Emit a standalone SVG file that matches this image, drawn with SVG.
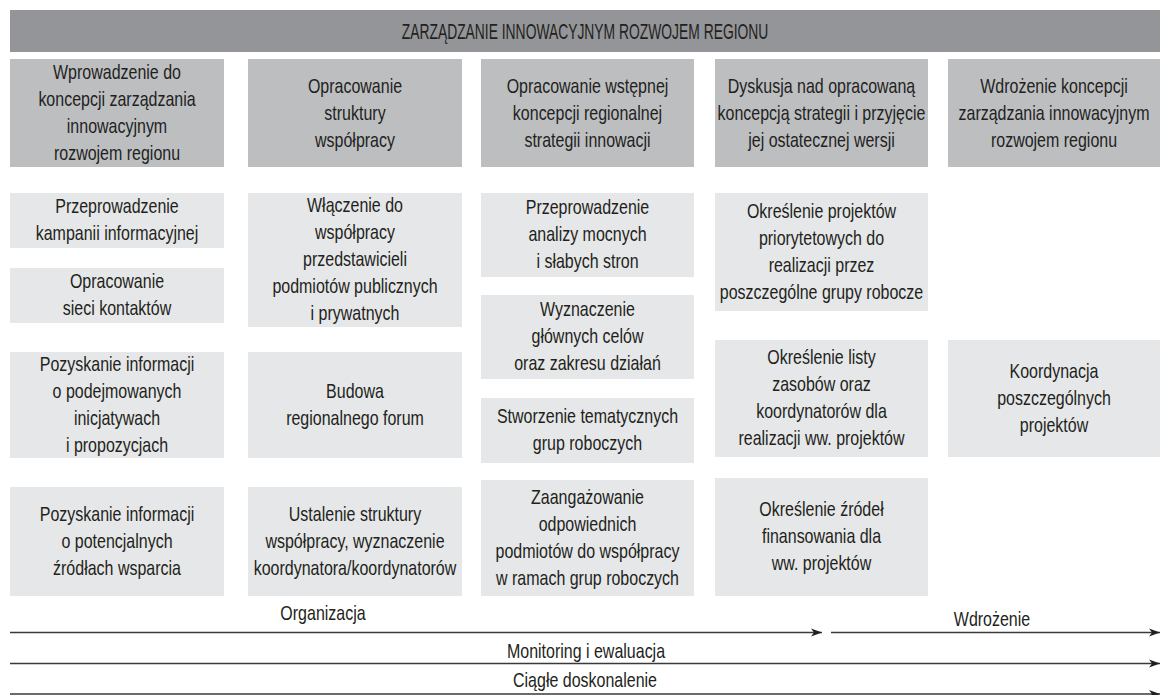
<svg xmlns="http://www.w3.org/2000/svg" width="1160" height="695" viewBox="0 0 1160 695">
<style>
.hdr{fill:#939598}
.top{fill:#bcbec0}
.sub{fill:#e6e7e8}
text{font-family:"Liberation Sans",Arial,sans-serif;font-size:20.5px;fill:#231f20;text-anchor:middle}
.ln{stroke:#3a3a3a;stroke-width:1.5;fill:none}
</style>
<defs>
<marker id="ah" markerUnits="userSpaceOnUse" markerWidth="12" markerHeight="9" refX="11" refY="4.5" orient="auto">
<path d="M0,0.5 L11,4.5 L0,8.5 L3,4.5 Z" fill="#231f20"/>
</marker>
</defs>
<rect width="1160" height="695" fill="#ffffff"/>
<g id="header">
<rect class="hdr" x="10" y="10" width="1150" height="42"/>
<g transform="translate(585,0) scale(0.63,1)"><text x="0" y="39" style="font-size:22px">ZARZĄDZANIE INNOWACYJNYM ROZWOJEM REGIONU</text></g>
</g>
<g id="c1-top"><rect class="top" x="10" y="59" width="214" height="108"/>
<g transform="translate(117,0) scale(0.78,1)"><text x="0" y="79">Wprowadzenie do</text><text x="0" y="106">koncepcji zarządzania</text><text x="0" y="133">innowacyjnym</text><text x="0" y="160">rozwojem regionu</text></g></g>
<g id="c1-1"><rect class="sub" x="10" y="193" width="214" height="55"/>
<g transform="translate(117,0) scale(0.78,1)"><text x="0" y="213.5">Przeprowadzenie</text><text x="0" y="240.5">kampanii informacyjnej</text></g></g>
<g id="c1-2"><rect class="sub" x="10" y="268" width="214" height="55"/>
<g transform="translate(117,0) scale(0.78,1)"><text x="0" y="288.5">Opracowanie</text><text x="0" y="315.5">sieci kontaktów</text></g></g>
<g id="c1-3"><rect class="sub" x="10" y="352" width="214" height="106"/>
<g transform="translate(117,0) scale(0.78,1)"><text x="0" y="371">Pozyskanie informacji</text><text x="0" y="398">o podejmowanych</text><text x="0" y="425">inicjatywach</text><text x="0" y="452">i propozycjach</text></g></g>
<g id="c1-4"><rect class="sub" x="10" y="487" width="214" height="109"/>
<g transform="translate(117,0) scale(0.78,1)"><text x="0" y="521">Pozyskanie informacji</text><text x="0" y="548">o potencjalnych</text><text x="0" y="575">źródłach wsparcia</text></g></g>

<g id="c2-top"><rect class="top" x="248" y="59" width="214" height="108"/>
<g transform="translate(355,0) scale(0.78,1)"><text x="0" y="93">Opracowanie</text><text x="0" y="120">struktury</text><text x="0" y="147">współpracy</text></g></g>
<g id="c2-1"><rect class="sub" x="248" y="193" width="214" height="134"/>
<g transform="translate(355,0) scale(0.78,1)"><text x="0" y="212.5">Włączenie do</text><text x="0" y="239.5">współpracy</text><text x="0" y="266.5">przedstawicieli</text><text x="0" y="293.5">podmiotów publicznych</text><text x="0" y="320.5">i prywatnych</text></g></g>
<g id="c2-2"><rect class="sub" x="248" y="352" width="214" height="106"/>
<g transform="translate(355,0) scale(0.78,1)"><text x="0" y="398">Budowa</text><text x="0" y="425">regionalnego forum</text></g></g>
<g id="c2-3"><rect class="sub" x="248" y="487" width="214" height="109"/>
<g transform="translate(355,0) scale(0.78,1)"><text x="0" y="521">Ustalenie struktury</text><text x="0" y="548">współpracy, wyznaczenie</text><text x="0" y="575">koordynatora/koordynatorów</text></g></g>

<g id="c3-top"><rect class="top" x="481" y="59" width="213" height="108"/>
<g transform="translate(587.5,0) scale(0.78,1)"><text x="0" y="93">Opracowanie wstępnej</text><text x="0" y="120">koncepcji regionalnej</text><text x="0" y="147">strategii innowacji</text></g></g>
<g id="c3-1"><rect class="sub" x="481" y="193" width="213" height="84"/>
<g transform="translate(587.5,0) scale(0.78,1)"><text x="0" y="214.5">Przeprowadzenie</text><text x="0" y="241.5">analizy mocnych</text><text x="0" y="268.5">i słabych stron</text></g></g>
<g id="c3-2"><rect class="sub" x="481" y="295" width="213" height="84"/>
<g transform="translate(587.5,0) scale(0.78,1)"><text x="0" y="316.5">Wyznaczenie</text><text x="0" y="343.5">głównych celów</text><text x="0" y="370.5">oraz zakresu działań</text></g></g>
<g id="c3-3"><rect class="sub" x="481" y="398" width="213" height="65"/>
<g transform="translate(587.5,0) scale(0.78,1)"><text x="0" y="423.5">Stworzenie tematycznych</text><text x="0" y="450.5">grup roboczych</text></g></g>
<g id="c3-4"><rect class="sub" x="481" y="480" width="213" height="116"/>
<g transform="translate(587.5,0) scale(0.78,1)"><text x="0" y="504">Zaangażowanie</text><text x="0" y="531">odpowiednich</text><text x="0" y="558">podmiotów do współpracy</text><text x="0" y="585">w ramach grup roboczych</text></g></g>

<g id="c4-top"><rect class="top" x="715" y="59" width="213" height="108"/>
<g transform="translate(821.5,0) scale(0.78,1)"><text x="0" y="93">Dyskusja nad opracowaną</text><text x="0" y="120">koncepcją strategii i przyjęcie</text><text x="0" y="147">jej ostatecznej wersji</text></g></g>
<g id="c4-1"><rect class="sub" x="715" y="193" width="213" height="118"/>
<g transform="translate(821.5,0) scale(0.78,1)"><text x="0" y="218">Określenie projektów</text><text x="0" y="245">priorytetowych do</text><text x="0" y="272">realizacji przez</text><text x="0" y="299">poszczególne grupy robocze</text></g></g>
<g id="c4-2"><rect class="sub" x="715" y="340" width="213" height="117"/>
<g transform="translate(821.5,0) scale(0.78,1)"><text x="0" y="364.5">Określenie listy</text><text x="0" y="391.5">zasobów oraz</text><text x="0" y="418.5">koordynatorów dla</text><text x="0" y="445.5">realizacji ww. projektów</text></g></g>
<g id="c4-3"><rect class="sub" x="715" y="478" width="213" height="118"/>
<g transform="translate(821.5,0) scale(0.78,1)"><text x="0" y="516.5">Określenie źródeł</text><text x="0" y="543.5">finansowania dla</text><text x="0" y="570.5">ww. projektów</text></g></g>

<g id="c5-top"><rect class="top" x="948" y="59" width="212" height="108"/>
<g transform="translate(1054,0) scale(0.78,1)"><text x="0" y="93">Wdrożenie koncepcji</text><text x="0" y="120">zarządzania innowacyjnym</text><text x="0" y="147">rozwojem regionu</text></g></g>
<g id="c5-1"><rect class="sub" x="948" y="340" width="212" height="117"/>
<g transform="translate(1054,0) scale(0.78,1)"><text x="0" y="378">Koordynacja</text><text x="0" y="405">poszczególnych</text><text x="0" y="432">projektów</text></g></g>

<g id="connectors">
<path class="ln" d="M10,632.5 H822" marker-end="url(#ah)"/>
<path class="ln" d="M831,632.5 H1160" marker-end="url(#ah)"/>
<path class="ln" d="M10,663.5 H1160" marker-end="url(#ah)"/>
<path class="ln" d="M10,694 H1160" marker-end="url(#ah)"/>
</g>
<g id="labels">
<g transform="translate(323,0) scale(0.78,1)"><text x="0" y="620">Organizacja</text></g>
<g transform="translate(992,0) scale(0.78,1)"><text x="0" y="626">Wdrożenie</text></g>
<g transform="translate(586,0) scale(0.78,1)"><text x="0" y="658">Monitoring i ewaluacja</text></g>
<g transform="translate(585,0) scale(0.78,1)"><text x="0" y="687">Ciągłe doskonalenie</text></g>
</g>
</svg>
